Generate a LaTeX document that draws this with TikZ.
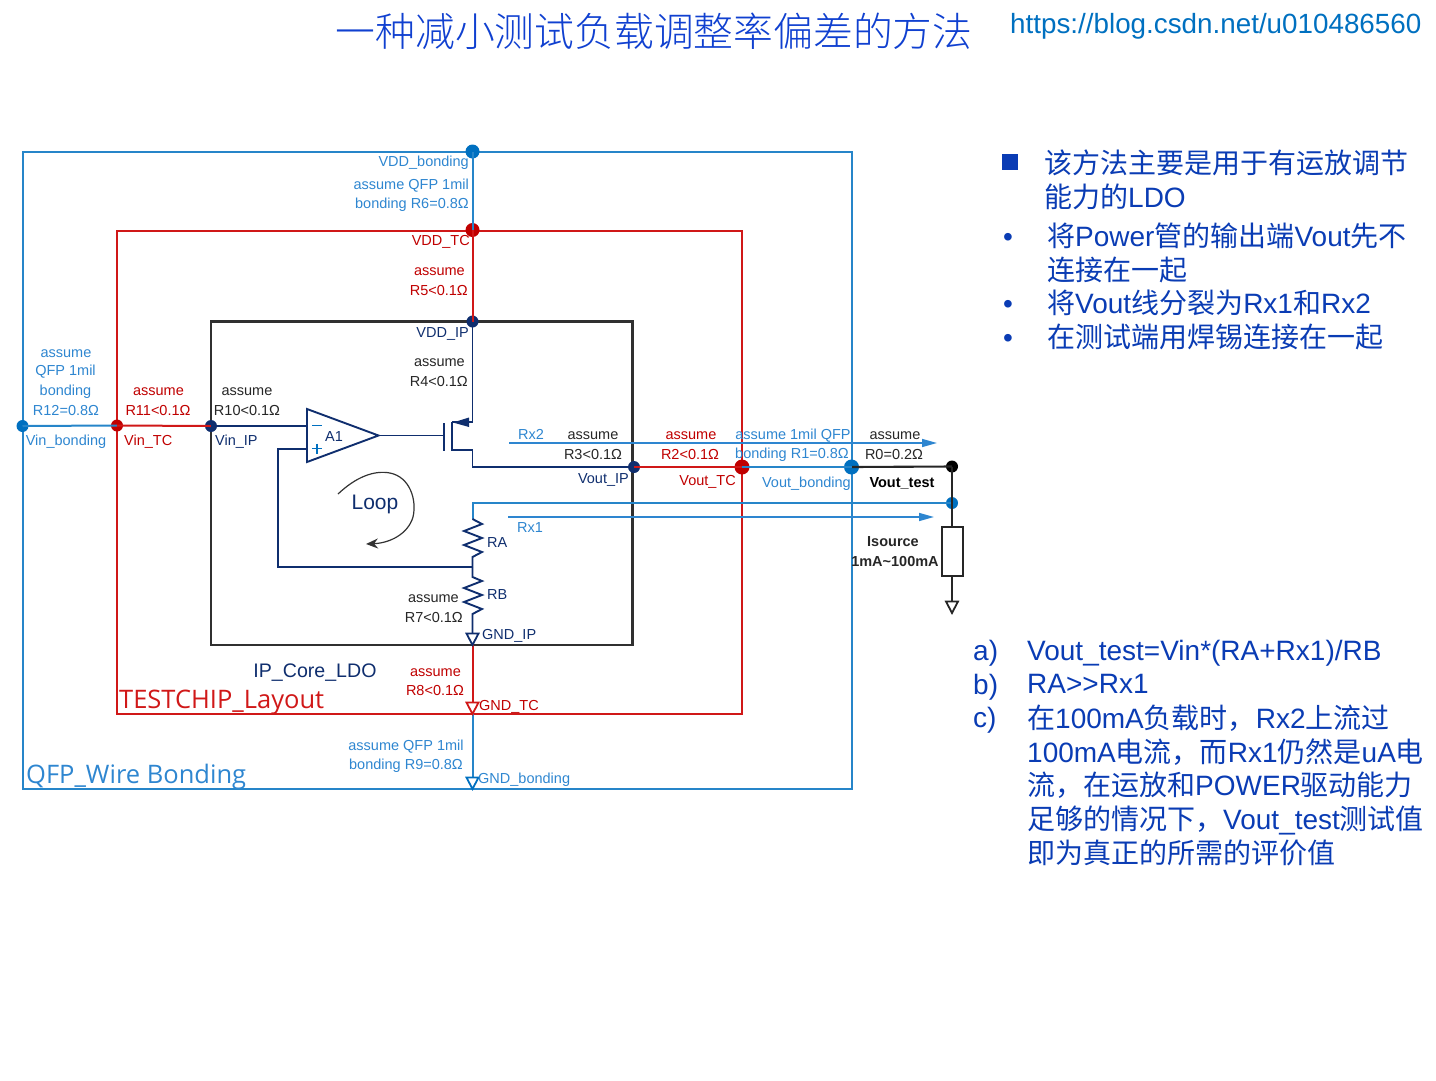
\documentclass[tikz,border=0pt]{standalone}
\usepackage{fontspec}
\setmainfont{Liberation Sans}
\newfontfamily\cjk{Noto Sans CJK SC}
\newfontfamily\cjkl[UprightFont=* Light]{Noto Sans CJK SC}
\newfontfamily\wide{Open Sans}
\usetikzlibrary{arrows.meta}
\definecolor{qblue}{HTML}{0070C0}
\definecolor{qlblue}{HTML}{2E86D0}
\definecolor{tred}{HTML}{C00000}
\definecolor{bred}{HTML}{D01818}
\definecolor{navy}{HTML}{0F2E6E}
\definecolor{dbox}{HTML}{303030}
\definecolor{tblue}{HTML}{0A3CB4}
\definecolor{ttlblue}{HTML}{1040D0}
\tikzset{
 lab/.style={inner sep=0pt,font=\fontsize{14.5}{19}\selectfont,align=center,yshift=-2pt},
 labr/.style={lab,align=right,anchor=east},
 labl/.style={lab,anchor=west},
 qb/.style={draw=qblue!85!white,line width=2pt},
 tr/.style={draw=bred,line width=2pt},
 ip/.style={draw=dbox,line width=2.2pt},
 nv/.style={draw=navy,line width=1.9pt},
 bk/.style={draw=black!85,line width=2.1pt},
 dot/.style={circle,inner sep=0pt,minimum size=#1},
 big/.style={inner sep=0pt,anchor=west,text=tblue,font=\fontsize{28}{34}\selectfont},
 btxt/.style={big,align=left,anchor=north west},
}
\newcommand{\gndsym}[2]{\draw[#2,fill=white,line width=1.8pt,line join=miter] (#1) ++(-6,-11.5) -- ++(12,0) -- ++(-6,11.5) -- cycle;}
\begin{document}
\begin{tikzpicture}[x=1pt,y=-1pt]
\useasboundingbox (0,0) rectangle (1436,1080);
\draw[ip] (211,321.5) rectangle (632.5,645);
\draw[tr] (117,230.5) rectangle (742,714);
\draw[qb] (23,151.5) rectangle (851.5,789);
% dots / junctions
\node[dot=14pt,fill=qblue] (vddb) at (472.5,151.5) {};
\node[dot=14pt,fill=tred] (vddt) at (472.5,230) {};
\node[dot=12pt,fill=navy] (vddi) at (472.5,321.5) {};
\node[dot=12pt,fill=qblue] (vinb) at (22.5,426) {};
\node[dot=12pt,fill=tred] (vint) at (117,425.5) {};
\node[dot=12pt,fill=navy] (vini) at (211,426) {};
\node[dot=12pt,fill=navy] (vouti) at (634,467) {};
\node[dot=15pt,fill=tred] (voutt) at (742,467) {};
\node[dot=15pt,fill=qblue] (voutb) at (851.5,467) {};
\node[dot=12pt,fill=black] (vtest) at (952,466.5) {};
\node[dot=12pt,fill=qblue] (fb) at (952,503) {};
\coordinate (gi) at (472.5,645);
\coordinate (gt) at (472.5,714);
\coordinate (gb) at (472.5,789);
% vertical feeds
\draw[qb] (vddb.center) -- (vddt.center);
\draw[tr] (vddt.center) -- (vddi.center);
\draw[nv] (vddi.center) -- (472.5,422) -- (452,422);
\draw[tr] (gi) -- (gt);
\draw[qb] (gt) -- (gb);
% horizontals
\draw[qb] (vinb.center) -- (vint.center);
\draw[tr] (vint.center) -- (vini.center);
\draw[nv] (vini.center) -- (307,426);
\draw[bk] (voutb.center) -- (vtest.center);
\draw[qb] (voutt.center) -- (voutb.center);
\draw[tr,line width=2.6pt] (vouti.center) -- (voutt.center);
% opamp
\node[inner sep=0pt] (ampip) at (307,449) {};
\node[inner sep=0pt] (ampo) at (378.5,435.5) {};
\draw[nv,line join=miter] (307,409) -- (ampo.center) -- (307,462) -- cycle;
\draw[draw=qblue,line width=1.6pt] (312,425.5) -- (322,425.5);
\draw[draw=qblue,line width=1.6pt] (312,448.5) -- (322,448.5) (317,443.5) -- (317,453.5);
\node[lab,text=navy,anchor=west] (a1) at (325,435) {A1};
% mosfet
\draw[nv] (ampo.center) -- (444,435.5);
\draw[nv] (444,423) -- (444,450.5);
\draw[nv] (452,422) -- (452,450) -- (472.5,450) -- (472.5,467) -- (vouti.center);
\fill[navy] (453,422.5) -- (469,417.5) -- (469,427) -- cycle;
% feedback with resistors
\draw[qb] (fb.center) -- (472.5,503) -- (472.5,519);
\draw[nv] (472.5,519) -- (482,524) -- (464,531) -- (482,538) -- (464,545) -- (482,552) -- (472.5,557) -- (472.5,567);
\draw[nv] (472.5,567) -- (472.5,577) -- (482,581) -- (464,588) -- (482,595) -- (464,602) -- (482,609) -- (472.5,614) -- (gi);
\draw[nv] (472.5,567) -- (278,567) -- (278,449) -- (ampip.center);
% Rx arrows
\coordinate (rx2s) at (509,443);
\coordinate (rx2e) at (937,443);
\coordinate (rx1s) at (508,517);
\coordinate (rx1e) at (934,517);
\draw[draw=qlblue,line width=1.6pt,-{Triangle[length=15pt,width=8pt]}] (rx2s) -- (rx2e);
\draw[draw=qlblue,line width=1.6pt,-{Triangle[length=15pt,width=8pt]}] (rx1s) -- (rx1e);
% output side
\draw[bk] (vtest.center) -- (fb.center);
\draw[bk] (fb.center) -- (952,527);
\node[draw=black!85,line width=2pt,minimum width=21pt,minimum height=49pt,inner sep=0pt] (isrc) at (952,551.5) {};
\draw[bk] (isrc.south) -- (952,601);
\coordinate (go) at (952,613);
\gndsym{go}{draw=black!85}
\gndsym{gi}{draw=navy}
\gndsym{gt}{draw=bred}
\gndsym{gb}{draw=qblue}
% loop arrow
\draw[draw=black!80,line width=1.2pt,-{Stealth[length=12pt,width=10pt]}] (338,494) .. controls (356,477) and (374,470) .. (390,473) .. controls (410,477) and (417,500) .. (413,517) .. controls (408,534) and (390,543) .. (366,544);
\node[inner sep=0pt,text=navy,font=\fontsize{21}{24}\selectfont,anchor=center] (loop) at (375,504) {Loop};
% labels
\node[labr,text=qlblue] (l1) at (469,161) {VDD\_bonding};
\node[labr,text=qlblue] (l2) at (469,184) {assume QFP 1mil};
\node[labr,text=qlblue] (l3) at (469,203) {bonding R6=0.8Ω};
\node[labr,text=tred] (l4) at (470,239.5) {VDD\_TC};
\node[labr,text=tred] (l5) at (465,270) {assume};
\node[labr,text=tred] (l6) at (468,289) {R5<0.1Ω};
\node[labr,text=navy] (l7) at (469,332) {VDD\_IP};
\node[labr,text=black!85] (l8) at (465,361) {assume};
\node[labr,text=black!85] (l9) at (468,379.5) {R4<0.1Ω};
\node[lab,text=qlblue] (a) at (66,352) {assume};
\node[lab,text=qlblue] (b) at (65.5,370) {QFP 1mil};
\node[lab,text=qlblue] (c) at (65.5,390) {bonding};
\node[lab,text=qlblue] (d) at (66,408.5) {R12=0.8Ω};
\node[lab,text=qlblue] (e) at (66,439.5) {Vin\_bonding};
\node[lab,text=tred] (f) at (158.5,390) {assume};
\node[lab,text=tred] (g) at (158,408.5) {R11<0.1Ω};
\node[labl,text=tred] (h) at (124,439.5) {Vin\_TC};
\node[lab,text=black!85] (i) at (247,390) {assume};
\node[lab,text=black!85] (j) at (247,408.5) {R10<0.1Ω};
\node[labl,text=navy] (k) at (215,439.5) {Vin\_IP};
\node[lab,text=qlblue] (rx2) at (531,432) {Rx2};
\node[lab,text=black!85] (m) at (593,434) {assume};
\node[lab,text=black!85] (n) at (593,452.5) {R3<0.1Ω};
\node[labr,text=navy] (o) at (629,478) {Vout\_IP};
\node[lab,text=tred] (p) at (691,434) {assume};
\node[lab,text=tred] (q) at (690,452.5) {R2<0.1Ω};
\node[labr,text=tred] (r) at (736,480) {Vout\_TC};
\node[lab,text=qlblue] (s) at (793,434) {assume 1mil QFP};
\node[lab,text=qlblue] (t) at (792,452.5) {bonding R1=0.8Ω};
\node[labr,text=qlblue] (u) at (851,482) {Vout\_bonding};
\node[lab,text=black!85] (v) at (895,434) {assume};
\node[lab,text=black!85] (w) at (894,452.5) {R0=0.2Ω};
\node[lab,text=black,font=\fontsize{14.5}{19}\bfseries\selectfont] (x) at (902,481) {Vout\_test};
\node[lab,text=qlblue] (rx1) at (530,525.5) {Rx1};
\node[labl,text=navy] (ra) at (487,540.5) {RA};
\node[labl,text=navy] (rb) at (487,593) {RB};
\node[lab,text=black!85,font=\fontsize{14.5}{19}\bfseries\selectfont] (is) at (893,540) {Isource};
\node[lab,text=black!85,font=\fontsize{14.5}{19}\bfseries\selectfont] (im) at (895,559.5) {1mA\textasciitilde100mA};
\node[labr,text=black!85] (r7a) at (459,597) {assume};
\node[labr,text=black!85] (r7b) at (463,615.5) {R7<0.1Ω};
\node[labl,text=navy] (gip) at (482,633.5) {GND\_IP};
\node[inner sep=0pt,text=navy,font=\fontsize{19.6}{24}\selectfont] (core) at (315,673) {IP\_Core\_LDO};
\node[lab,text=tred] (r8a) at (435.5,670.5) {assume};
\node[lab,text=tred] (r8b) at (435,688.5) {R8<0.1Ω};
\node[labl,text=tred] (gtc) at (479,704.5) {GND\_TC};
\node[inner sep=0pt,anchor=west,text=bred,font=\wide\fontsize{25.5}{28}\selectfont] (tcl) at (119,702) {TESTCHIP\_Layout};
\node[lab,text=qlblue] (r9a) at (406,745) {assume QFP 1mil};
\node[lab,text=qlblue] (r9b) at (406,763.5) {bonding R9=0.8Ω};
\node[labl,text=qlblue] (gbo) at (478,778) {GND\_bonding};
\node[inner sep=0pt,anchor=west,text=qlblue,font=\wide\fontsize{25.5}{28}\selectfont] (qfp) at (26,777) {QFP\_Wire Bonding};
% title
\node[inner sep=0pt,text=ttlblue,font=\cjkl\fontsize{39.8}{44}\selectfont] (title) at (654,31) {一种减小测试负载调整率偏差的方法};
\node[inner sep=0pt,text=qblue,font=\fontsize{27.8}{32}\selectfont,anchor=west] (url) at (1010,26) {https://blog.csdn.net/u010486560};
% bullets
\node[fill=tblue,inner sep=0pt,minimum size=16pt] (b0) at (1010,162) {};
\node[btxt] (t0) at (1044,150) {\cjk 该方法主要是用于有运放调节\\\cjk 能力的\normalfont LDO};
\node[big] (b1) at (1003,240) {•};
\node[btxt] (t1) at (1047,223) {\cjk 将\normalfont Power\cjk 管的输出端\normalfont Vout\cjk 先不\\\cjk 连接在一起};
\node[big] (b2) at (1003,307) {•};
\node[btxt] (t2) at (1047,290) {\cjk 将\normalfont Vout\cjk 线分裂为\normalfont Rx1\cjk 和\normalfont Rx2};
\node[big] (b3) at (1003,341) {•};
\node[btxt] (t3) at (1047,324) {\cjk 在测试端用焊锡连接在一起};
% list
\node[btxt] (la) at (973,640) {a)};
\node[btxt] (lta) at (1027,640) {Vout\_test=Vin*(RA+Rx1)/RB};
\node[btxt] (lb) at (973,674) {b)};
\node[btxt] (ltb) at (1027,674) {RA>{}>Rx1};
\node[btxt] (lc) at (973,707) {c)};
\node[btxt,font=\fontsize{28}{33.6}\selectfont] (ltc) at (1027,705) {\cjk 在\normalfont 100mA\cjk 负载时，\normalfont Rx2\cjk 上流过\\100mA\cjk 电流，而\normalfont Rx1\cjk 仍然是\normalfont uA\cjk 电\\\cjk 流，在运放和\normalfont POWER\cjk 驱动能力\\\cjk 足够的情况下，\normalfont Vout\_test\cjk 测试值\\\cjk 即为真正的所需的评价值};
\end{tikzpicture}
\end{document}
